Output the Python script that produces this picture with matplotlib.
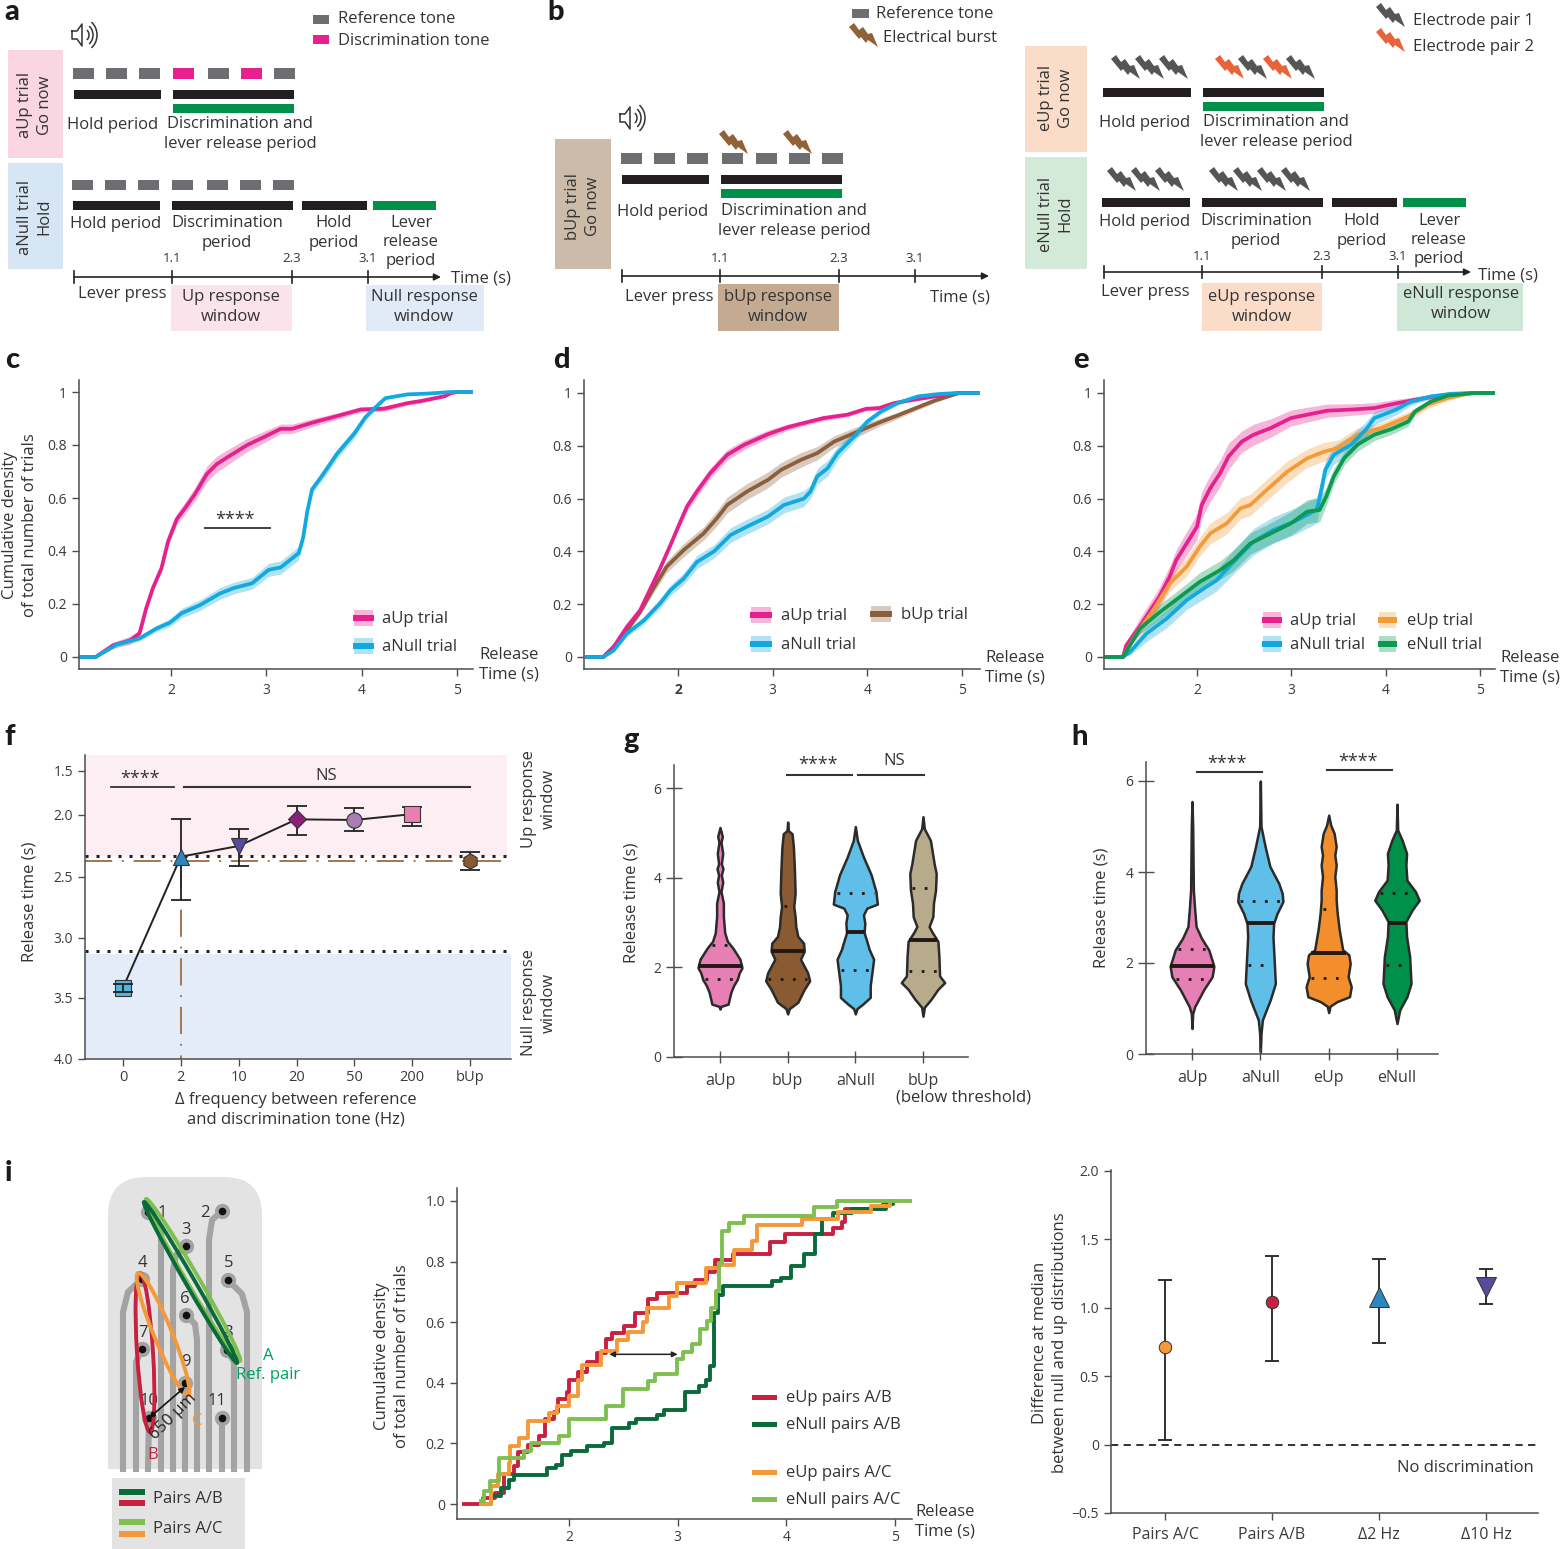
import numpy as np
import matplotlib
matplotlib.use('Agg')
import matplotlib.pyplot as plt
from matplotlib.patches import Rectangle, Ellipse, Arc, FancyBboxPatch

W, H = 1560, 1549
plt.rcParams['font.family'] = ['Open Sans', 'DejaVu Sans']
FS = 12
DARK = '#333333'
GREY = '#4d4d4d'

# ---- curves, columns are release time, cumulative density, band half width
c_aup = np.array([[1.03,0,0],[1.21,0,0],[1.39,.044,.012],[1.57,.063,.015],[1.67,.089,.015],[1.74,.184,.012],[1.81,.26,.012],
    [1.90,.335,.012],[1.97,.437,.015],[2.06,.52,.02],[2.15,.563,.022],[2.25,.614,.025],[2.375,.69,.03],[2.48,.728,.03],
    [2.62,.76,.028],[2.80,.80,.025],[2.97,.829,.022],[3.15,.861,.018],[3.27,.861,.018],[3.50,.886,.015],[3.74,.909,.012],
    [3.99,.934,.01],[4.235,.937,.01],[4.48,.958,.008],[4.62,.966,.008],[4.87,.984,.005],[4.94,.996,.002],[5.01,1,0],[5.17,1,0]])
c_anull = np.array([[1.03,0,0],[1.21,0,0],[1.43,.047,.008],[1.67,.07,.01],[1.85,.108,.012],[1.99,.13,.015],[2.11,.165,.018],
    [2.305,.196,.02],[2.515,.24,.022],[2.656,.26,.022],[2.85,.278,.022],[3.025,.329,.025],[3.15,.338,.025],[3.34,.392,.025],
    [3.386,.45,.012],[3.43,.55,.01],[3.48,.633,.015],[3.585,.684,.018],[3.74,.766,.018],[3.92,.842,.018],[4.04,.905,.012],
    [4.165,.949,.008],[4.25,.977,.005],[4.48,.991,.003],[4.69,.994,.002],[4.94,1,0],[5.17,1,0]])

d_aup = np.array([[1.02,0,0],[1.21,0,0],[1.32,.038,.008],[1.46,.114,.01],[1.60,.177,.012],[1.71,.26,.012],[1.81,.335,.012],
    [1.92,.424,.012],[2.01,.5,.015],[2.095,.57,.018],[2.2,.627,.02],[2.34,.696,.02],[2.52,.766,.02],[2.70,.804,.018],
    [2.95,.844,.015],[3.155,.87,.012],[3.37,.89,.01],[3.54,.905,.01],[3.79,.918,.008],[3.985,.94,.008],[4.125,.943,.008],
    [4.285,.962,.006],[4.5,.975,.005],[4.71,.987,.004],[4.96,1,0],[5.19,1,0]])
d_anull = np.array([[1.02,0,0],[1.21,0,0],[1.32,.025,.008],[1.46,.089,.012],[1.64,.139,.015],[1.81,.203,.018],[1.92,.253,.02],
    [2.06,.297,.022],[2.2,.36,.025],[2.38,.4,.025],[2.555,.462,.028],[2.73,.494,.028],[2.95,.532,.028],[3.12,.576,.03],
    [3.33,.6,.03],[3.40,.627,.025],[3.47,.684,.03],[3.58,.715,.03],[3.685,.772,.025],[3.86,.835,.02],[4.0,.892,.012],
    [4.145,.93,.01],[4.32,.962,.008],[4.535,.987,.004],[4.75,.996,.002],[4.96,1,0],[5.19,1,0]])
d_bup = np.array([[1.02,0,0],[1.21,0,0],[1.32,.038,.008],[1.46,.101,.01],[1.60,.171,.012],[1.74,.26,.018],[1.88,.342,.022],
    [2.06,.405,.025],[2.27,.468,.025],[2.41,.525,.028],[2.52,.576,.03],[2.73,.627,.03],[2.95,.671,.03],[3.09,.709,.028],
    [3.30,.747,.028],[3.47,.772,.025],[3.65,.816,.022],[3.86,.848,.02],[4.11,.886,.015],[4.32,.915,.012],[4.535,.946,.01],
    [4.71,.971,.008],[4.89,.991,.004],[4.97,1,0],[5.19,1,0]])

e_aup = np.array([[1.02,0,0],[1.215,0,0],[1.25,.044,.015],[1.39,.114,.03],[1.60,.228,.035],[1.71,.304,.04],[1.78,.367,.04],
    [1.89,.43,.045],[2.0,.494,.05],[2.05,.576,.05],[2.14,.639,.05],[2.245,.696,.05],[2.335,.76,.05],[2.475,.816,.04],
    [2.6,.842,.04],[2.78,.867,.035],[2.995,.905,.03],[3.17,.918,.028],[3.38,.933,.025],[3.63,.937,.022],[3.88,.943,.02],
    [4.13,.962,.015],[4.415,.981,.008],[4.66,.994,.004],[4.94,1,0],[5.16,1,0]])
e_anull = np.array([[1.02,0,0],[1.215,0,0],[1.29,.019,.012],[1.465,.089,.03],[1.68,.146,.035],[1.89,.215,.035],[2.1,.266,.04],
    [2.21,.291,.04],[2.39,.361,.045],[2.6,.437,.05],[2.81,.481,.05],[3.03,.513,.05],[3.27,.557,.05],[3.31,.62,.04],
    [3.36,.709,.035],[3.45,.766,.035],[3.63,.804,.035],[3.79,.861,.03],[3.88,.905,.025],[4.11,.937,.02],[4.27,.968,.015],
    [4.48,.987,.008],[4.695,.997,.003],[4.94,1,0],[5.16,1,0]])
e_eup = np.array([[1.02,0,0],[1.215,0,0],[1.36,.089,.015],[1.535,.177,.025],[1.71,.278,.03],[1.89,.342,.035],[2.03,.418,.035],
    [2.14,.468,.04],[2.315,.506,.04],[2.46,.563,.04],[2.565,.576,.04],[2.74,.633,.04],[2.96,.703,.04],[3.17,.753,.035],
    [3.35,.778,.035],[3.49,.791,.03],[3.70,.842,.025],[3.95,.867,.02],[4.24,.911,.018],[4.445,.956,.015],[4.66,.981,.01],
    [4.87,.997,.004],[4.94,1,0],[5.16,1,0]])
e_enull = np.array([[1.02,0,0],[1.215,0,0],[1.395,.108,.02],[1.61,.171,.03],[1.82,.228,.03],[2.03,.285,.035],[2.245,.329,.035],
    [2.39,.367,.04],[2.565,.43,.04],[2.78,.468,.04],[2.995,.506,.045],[3.17,.551,.045],[3.3,.557,.045],[3.37,.608,.035],
    [3.45,.684,.03],[3.56,.753,.025],[3.70,.804,.025],[3.88,.842,.022],[4.06,.863,.02],[4.24,.892,.018],[4.31,.93,.012],
    [4.48,.968,.008],[4.66,.99,.004],[4.94,1,0],[5.16,1,0]])

# ---- panel f
f_labels = ['0', '2', '10', '20', '50', '200', 'bUp']
f_median = [3.415, 2.336, 2.25, 2.035, 2.04, 1.99, 2.37]
f_low = [3.38, 2.035, 2.11, 1.895, 1.915, 1.91, 2.30]
f_high = [3.45, 2.69, 2.41, 2.16, 2.13, 2.085, 2.445]
f_markers = ['s', '^', 'v', 'D', 'o', 's', 'h']
f_colors = ['#55b4dc', '#2e86c1', '#5a4a9c', '#8a1f7c', '#a97cb5', '#e87fb0', '#8a5a33']
f_tick_vals = [1.32, 1.5, 2.0, 2.5, 3.0, 3.5, 4.0]
f_tick_pos = [755, 771, 815, 877, 938, 998, 1059]

# ---- violins, columns are release time and half width in category units
g_labels = ['aUp', 'bUp', 'aNull', 'bUp']
g_colors = ['#e57fb4', '#8a5a33', '#60bfe8', '#b8ab8c']
g_aup = np.array([[5.12,0],[4.92,.034],[4.79,.015],[4.54,.04],[4.31,.02],[4.2,.044],[4.06,.02],[3.9,.04],[3.69,.015],[3.43,.05],
    [3.13,.05],[2.77,.07],[2.58,.11],[2.43,.19],[2.18,.295],[1.99,.325],[1.88,.285],[1.73,.255],[1.59,.2],[1.44,.16],[1.18,.12],[1.13,.015],[1.07,0]])
g_bup = np.array([[5.24,0],[5.05,.01],[4.98,.065],[4.68,.085],[4.17,.1],[3.65,.11],[3.36,.09],[3.13,.11],[2.91,.12],[2.69,.15],
    [2.54,.235],[2.36,.245],[2.18,.19],[1.88,.295],[1.70,.325],[1.51,.245],[1.22,.15],[1.08,.025],[.96,0]])
g_anull = np.array([[5.14,0],[4.83,.03],[4.46,.12],[4.06,.235],[3.87,.27],[3.69,.305],[3.41,.325],[3.32,.17],[3.17,.12],[2.99,.14],
    [2.77,.13],[2.58,.17],[2.40,.205],[2.18,.27],[1.88,.245],[1.59,.22],[1.33,.22],[1.18,.11],[1.08,.025],[.96,0]])
g_bthr = np.array([[5.36,0],[5.09,.02],[4.83,.11],[4.31,.165],[4.09,.195],[3.72,.185],[3.43,.155],[3.13,.145],[2.91,.09],[2.77,.14],
    [2.58,.22],[2.25,.235],[1.81,.245],[1.66,.32],[1.51,.22],[1.29,.12],[1.11,.02],[.91,0]])
g_violins = [g_aup, g_bup, g_anull, g_bthr]
g_medians = [2.03, 2.37, 2.79, 2.61]
g_q1 = [1.73, 1.73, 1.93, 1.92]
g_q3 = [2.5, 3.36, 3.65, 3.78]

h_labels = ['aUp', 'aNull', 'eUp', 'eNull']
h_colors = ['#e57fb4', '#60bfe8', '#f28f2c', '#00904a']
h_aup = np.array([[5.55,0],[5.0,.01],[3.6,.02],[3.16,.04],[2.8,.06],[2.54,.14],[2.29,.245],[1.93,.32],[1.7,.295],[1.41,.17],[1.04,.04],[.89,.01],[.56,0]])
h_anull = np.array([[6.0,0],[5.0,.01],[4.56,.07],[4.12,.14],[3.75,.27],[3.53,.32],[3.35,.33],[3.09,.245],[2.87,.195],[2.58,.185],[1.99,.205],[1.55,.22],[1.19,.145],[.75,.03],[.45,.01],[.05,0]])
h_eup = np.array([[5.25,0],[5.03,.03],[4.85,.08],[4.56,.11],[4.37,.09],[4.15,.11],[3.9,.09],[3.6,.11],[3.38,.11],[3.09,.125],[2.73,.155],[2.29,.205],[2.18,.295],[1.99,.315],[1.7,.285],[1.48,.33],[1.26,.305],[1.15,.12],[1.05,.02],[.91,0]])
h_enull = np.array([[5.49,0],[4.92,.01],[4.7,.075],[4.41,.14],[4.15,.13],[3.82,.145],[3.57,.27],[3.38,.325],[3.16,.22],[2.91,.13],[2.58,.14],[2.14,.185],[1.55,.205],[1.26,.145],[.97,.04],[.67,0]])
h_violins = [h_aup, h_anull, h_eup, h_enull]
h_medians = [1.94, 2.87, 2.23, 2.88]
h_q1 = [1.64, 1.96, 1.68, 1.95]
h_q3 = [2.31, 3.36, 3.19, 3.53]

# ---- panel i cumulative steps, time of each jump and level after it
i_eup_ab = np.array([[1.03,0],[1.21,.02],[1.32,.036],[1.40,.10],[1.49,.124],[1.53,.17],[1.62,.196],[1.72,.225],[1.78,.28],[1.86,.305],[1.90,.345],
    [1.98,.37],[2.0,.41],[2.08,.437],[2.17,.47],[2.26,.50],[2.34,.545],[2.40,.565],[2.51,.587],[2.61,.63],[2.73,.675],[2.81,.695],[3.09,.72],
    [3.16,.74],[3.27,.765],[3.34,.805],[3.51,.825],[3.85,.865],[3.99,.89],[4.43,.91],[4.51,.93],[4.54,.975],[4.89,.99],[4.97,1.0]])
i_eup_ac = np.array([[1.19,0],[1.28,.058],[1.35,.10],[1.45,.135],[1.46,.19],[1.54,.218],[1.62,.273],[1.82,.30],[1.89,.322],[2.0,.356],[2.08,.41],
    [2.12,.46],[2.29,.505],[2.44,.54],[2.54,.568],[2.68,.60],[2.72,.648],[2.92,.687],[2.99,.73],[3.26,.78],[3.38,.79],[3.52,.838],[3.68,.868],
    [3.73,.92],[4.14,.94],[4.48,.965],[4.78,.985],[4.95,1.0]])
i_enull_ab = np.array([[1.19,0],[1.28,.025],[1.37,.053],[1.45,.08],[1.49,.097],[1.80,.119],[1.88,.13],[1.94,.163],[2.02,.174],[2.17,.19],[2.32,.202],
    [2.40,.251],[2.55,.267],[2.62,.28],[2.81,.295],[2.87,.31],[3.07,.37],[3.2,.388],[3.26,.41],[3.3,.455],[3.33,.63],[3.37,.69],[3.42,.72],
    [3.87,.735],[3.95,.747],[4.04,.786],[4.16,.825],[4.26,.89],[4.33,.94],[4.43,.96],[4.6,.975],[4.92,.99],[4.98,1.0]])
i_enull_ac = np.array([[1.19,.01],[1.22,.042],[1.27,.075],[1.36,.152],[1.59,.174],[1.65,.202],[1.91,.224],[2.0,.279],[2.34,.323],[2.50,.378],[2.73,.406],
    [2.79,.428],[2.99,.477],[3.05,.502],[3.13,.527],[3.21,.577],[3.27,.604],[3.31,.648],[3.35,.703],[3.38,.797],[3.41,.90],[3.47,.929],[3.61,.95],
    [4.25,.979],[4.47,1.0],[5.16,1.0]])

# ---- panel i right
j_labels = ['Pairs A/C', 'Pairs A/B', '\u03942 Hz', '\u039410 Hz']
j_values = [0.71, 1.04, 1.08, 1.15]
j_low = [0.03, 0.61, 0.74, 1.03]
j_high = [1.20, 1.38, 1.36, 1.28]
j_markers = ['o', 'o', '^', 'v']
j_colors = ['#f4993a', '#c8203f', '#2e86c1', '#5a4a9c']
j_sizes = [9, 9, 15, 15]

cum_ticks = [0, .2, .4, .6, .8, 1]
cum_labels = ['0', '0.2', '0.4', '0.6', '0.8', '1']

PINK, BLUE, BROWN, ORANGE, GREEN = '#e6218e', '#11a9e0', '#8b5e3c', '#f39b38', '#0b9a50'

fig = plt.figure(figsize=(W / 100, H / 100), dpi=100, facecolor='white')


def px_axes(x0, x1, ytop, ybot, xref, yref):
    ax = fig.add_axes([x0 / W, 1 - ybot / H, (x1 - x0) / W, (ybot - ytop) / H], facecolor='none')
    if xref:
        (v1, p1), (v2, p2) = xref
        k = (v2 - v1) / (p2 - p1)
        ax.set_xlim(v1 + (x0 - p1) * k, v1 + (x1 - p1) * k)
    if yref:
        (v1, p1), (v2, p2) = yref
        k = (v2 - v1) / (p2 - p1)
        ax.set_ylim(v1 + (ybot - p1) * k, v1 + (ytop - p1) * k)
    for s in ['top', 'right']:
        ax.spines[s].set_visible(False)
    for s in ['left', 'bottom']:
        ax.spines[s].set_color(GREY)
        ax.spines[s].set_linewidth(1.1)
    ax.tick_params(colors=GREY, labelcolor='#3a3a3a', labelsize=10, width=1, length=5)
    return ax


def cum_panel(xpx, ypx, curves):
    ax = px_axes(xpx[0], xpx[1], 380, 669, ((2, xpx[2]), (5, xpx[3])), ((0, ypx[0]), (1, ypx[1])))
    for data, col in curves:
        ax.fill_between(data[:, 0], data[:, 1] - data[:, 2], data[:, 1] + data[:, 2], color=col, alpha=.33, lw=0)
    for data, col in curves:
        ax.plot(data[:, 0], data[:, 1], color=col, lw=2.7, solid_capstyle='butt')
    ax.set_xticks([2, 3, 4, 5])
    ax.set_xticklabels(['2', '3', '4', '5'])
    ax.set_yticks(cum_ticks)
    ax.set_yticklabels(cum_labels)
    ax.tick_params(axis='x', pad=5)
    return ax


ax_c = cum_panel((79, 473, 171, 457), (657, 392), [(c_aup, PINK), (c_anull, BLUE)])
ax_d = cum_panel((584, 980, 678, 962), (657, 393), [(d_bup, BROWN), (d_aup, PINK), (d_anull, BLUE)])
ax_d.get_xticklabels()[0].set_fontweight('bold')
ax_e = cum_panel((1104, 1495, 1197, 1480), (657, 393), [(e_aup, PINK), (e_eup, ORANGE), (e_anull, BLUE), (e_enull, GREEN)])


# panel f has a squeezed top, the 1.5 to 2.0 step is shorter than the others
def f_fwd(v):
    return np.interp(v, f_tick_vals, f_tick_pos)


def f_inv(p):
    return np.interp(p, f_tick_pos, f_tick_vals)


ax_f = px_axes(85, 511, 755, 1059, ((0, 123), (6, 470)), None)
ax_f.set_yscale('function', functions=(f_fwd, f_inv))
ax_f.set_ylim(4.0, 1.32)
ax_f.axhspan(1.32, 2.33, xmax=.99, color='#fdeef3', lw=0, zorder=0)
ax_f.axhspan(3.13, 4.0, color='#e4ecf9', lw=0, zorder=0)
ax_f.axhline(2.33, xmax=.99, color='#222222', lw=2.2, ls=(0, (1, 2.6)), zorder=2)
ax_f.axhline(3.11, xmax=.99, color='#222222', lw=2.2, ls=(0, (1, 2.6)), zorder=2)
ax_f.axhline(2.37, color='#a5764f', lw=1.4, ls=(0, (14, 5, 1, 5)), zorder=2)
ax_f.plot([1, 1], [2.37, 4.0], color='#a5764f', lw=1.4, ls=(0, (14, 5, 1, 5)), zorder=2)
xs = np.arange(len(f_labels))
ax_f.plot(xs[:6], f_median[:6], color='#222222', lw=1.4, zorder=3)
for i in xs:
    ax_f.errorbar(i, f_median[i], yerr=[[f_median[i] - f_low[i]], [f_high[i] - f_median[i]]], color='#222222',
                  lw=1.3, capsize=7.5, capthick=1.3, zorder=5 if i == 0 else 3)
    ax_f.plot(i, f_median[i], marker=f_markers[i], ms=11 if f_markers[i] != 'D' else 9.5, color=f_colors[i],
              mec='#333333', mew=.8, zorder=4)
ax_f.set_xticks(xs)
ax_f.set_xticklabels(f_labels, fontsize=10.5)
ax_f.set_yticks([1.5, 2.0, 2.5, 3.0, 3.5, 4.0])
ax_f.set_yticklabels(['1.5', '2.0', '2.5', '3.0', '3.5', '4.0'])
ax_f.minorticks_off()
ax_f.tick_params(axis='x', pad=3)


def violin_panel(ax, violins, colors, medians, q1, q3, labels):
    for i, v in enumerate(violins):
        ax.fill_betweenx(v[:, 0], i - v[:, 1], i + v[:, 1], facecolor=colors[i], edgecolor='#2b2b2b', lw=1.8)
        hw = np.interp(medians[i], v[::-1, 0], v[::-1, 1])
        ax.plot([i - hw, i + hw], [medians[i]] * 2, color='#231815', lw=2.8, solid_capstyle='butt')
        for q in (q1[i], q3[i]):
            hw = np.interp(q, v[::-1, 0], v[::-1, 1])
            ax.plot([i - hw + .03, i + hw - .03], [q, q], color='#231815', lw=2, ls=(0, (1, 3.4)))
    ax.set_xticks(range(len(labels)))
    ax.set_xticklabels(labels, fontsize=11.5)
    ax.set_yticks([0, 2, 4, 6])
    ax.tick_params(axis='x', pad=7, direction='inout', length=9)
    ax.tick_params(axis='y', direction='inout', length=11)


ax_g = px_axes(674, 968, 765, 1057, ((0, 720), (3, 923)), ((0, 1057), (6, 788)))
violin_panel(ax_g, g_violins, g_colors, g_medians, g_q1, g_q3, g_labels)
ax_h = px_axes(1146, 1438, 762, 1054, ((0, 1192), (3, 1397)), ((0, 1054), (6, 781)))
violin_panel(ax_h, h_violins, h_colors, h_medians, h_q1, h_q3, h_labels)

ax_i = px_axes(457, 912, 1188, 1519, ((2, 569), (5, 895)), ((0, 1504), (1, 1201)))
for data, col in [(i_eup_ab, '#c8203f'), (i_enull_ab, '#0a6a3a'), (i_eup_ac, '#f4993a'), (i_enull_ac, '#7fbf50')]:
    ax_i.plot(data[:, 0], data[:, 1], color=col, lw=2.8, drawstyle='steps-post')
ax_i.annotate('', xy=(2.37, .494), xytext=(3.0, .494), arrowprops=dict(arrowstyle='<|-|>', color='#222222', lw=1.1, mutation_scale=8, shrinkA=0, shrinkB=0))
ax_i.set_xticks([2, 3, 4, 5])
ax_i.set_xticklabels(['2', '3', '4', '5'])
ax_i.set_yticks(cum_ticks)
ax_i.set_yticklabels(['0', '0.2', '0.4', '0.6', '0.8', '1.0'])
ax_i.tick_params(axis='x', pad=3)

ax_j = px_axes(1111, 1538, 1170, 1513, ((0, 1165), (3, 1486)), ((0, 1445), (2, 1171)))
ax_j.axhline(0, color='#222222', lw=1.3, ls=(0, (4, 3)))
for i in range(4):
    ax_j.errorbar(i, j_values[i], yerr=[[j_values[i] - j_low[i]], [j_high[i] - j_values[i]]], color='#222222', lw=1.3, capsize=5, capthick=1.3)
    ax_j.plot(i, j_values[i], marker=j_markers[i], ms=j_sizes[i], color=j_colors[i], mec='#333333', mew=.7, zorder=4)
ax_j.set_xticks(range(4))
ax_j.set_xticklabels(j_labels, fontsize=11.5)
ax_j.set_yticks([-.5, 0, .5, 1, 1.5, 2])
ax_j.set_yticklabels(['\u22120.5', '0', '0.5', '1.0', '1.5', '2.0'])
ax_j.tick_params(axis='x', pad=5)

# overlay in image pixels for the schematics, labels and legends
ov = fig.add_axes([0, 0, 1, 1], facecolor='none')
ov.set_xlim(0, W)
ov.set_ylim(H, 0)
ov.axis('off')


def T(x, y, s, size=FS, ha='center', va='center', color=DARK, **kw):
    ov.text(x, y + 1, s, fontsize=size, ha=ha, va=va, color=color, linespacing=1.27, **kw)


def letter(x, y, s):
    ov.text(x, y, s, fontsize=21, ha='center', va='center', color='#1a1a1a', family='Lato', fontweight=900)


def R(x0, x1, y0, y1, color, **kw):
    ov.add_patch(Rectangle((x0, y0), x1 - x0, y1 - y0, facecolor=color, edgecolor='none', **kw))


BOLT = np.array([[-14, -9], [-9, -13], [-4, -6], [0, -9], [5, -2], [9, -3], [15, 11], [5, 4], [3, 7], [-2, 1], [-4, 3]], dtype=float)
B_GREY, B_RED, B_BROWN = '#555555', '#e8633a', '#8f6238'
TONE_GREY, TONE_PINK, BAR_GREEN, BAR_BLACK = '#6d6e71', '#e6218e', '#00904a', '#231f20'


def bolt(x, y, color):
    ov.fill(BOLT[:, 0] + x, BOLT[:, 1] + y, color=color, lw=0)


def speaker(x, y):
    ov.plot(x + np.array([-10, -5, 0, 0, -5, -10, -10]), y + np.array([-4, -4, -11, 11, 4, 4, -4]), color='#333333', lw=1.1)
    for r in (5, 9, 13):
        ov.add_patch(Arc((x + 2, y), r * 2, r * 2.4, theta1=-60, theta2=60, color='#333333', lw=1.1))


def tones(xs_, y0, y1, pink=()):
    for n, x in enumerate(xs_):
        R(x, x + 21, y0, y1, TONE_PINK if n in pink else TONE_GREY)


def time_axis(x0, x1, y, ticks, lab_y):
    ov.annotate('', xy=(x1, y), xytext=(x0, y), arrowprops=dict(arrowstyle='-|>', color='#222222', lw=1.2, mutation_scale=10, shrinkA=0, shrinkB=0))
    for x in [x0] + ticks:
        ov.plot([x, x], [y - 6, y + 6], color='#222222', lw=1.2)
    for x, s in zip(ticks, ['1.1', '2.3', '3.1']):
        T(x, lab_y, s, size=9.5)


# a
letter(12, 12, 'a')
speaker(82, 35)
R(313, 329, 15, 24, TONE_GREY)
R(313, 329, 35, 44, TONE_PINK)
T(338, 18, 'Reference tone', ha='left')
T(338, 40, 'Discrimination tone', ha='left')
R(8, 63, 50, 158, '#f9d6e2')
R(8, 63, 163, 269, '#d6e6f5')
T(35, 104, 'aUp trial\nGo now', rotation=90)
T(35, 216, 'aNull trial\nHold', rotation=90)
tones([73, 106, 139, 173, 208, 241, 274], 68, 79, pink=(3, 5))
R(74, 161, 90, 99, BAR_BLACK)
R(173, 294, 90, 99, BAR_BLACK)
R(173, 294, 104, 113, BAR_GREEN)
T(113, 124, 'Hold period')
T(240, 133, 'Discrimination and\nlever release period')
tones([72, 105, 138, 172, 207, 240, 273], 180, 190)
R(73, 160, 201, 210, BAR_BLACK)
R(172, 293, 201, 210, BAR_BLACK)
R(302, 367, 201, 210, BAR_BLACK)
R(373, 436, 201, 210, BAR_GREEN)
T(116, 223, 'Hold period')
T(227, 232, 'Discrimination\nperiod')
T(334, 232, 'Hold\nperiod')
T(411, 241, 'Lever\nrelease\nperiod')
time_axis(74, 441, 277, [172, 292, 368], 257)
T(481, 277, 'Time (s)')
T(122, 293, 'Lever press')
R(171, 292, 285, 331, '#fbe3ec')
R(366, 484, 285, 331, '#e0ebf7')
T(231, 306, 'Up response\nwindow')
T(424, 306, 'Null response\nwindow')

# b
letter(556, 12, 'b')
speaker(630, 118)
R(852, 869, 9, 18, TONE_GREY)
bolt(863, 36, B_BROWN)
T(876, 13, 'Reference tone', ha='left')
T(883, 37, 'Electrical burst', ha='left')
R(555, 611, 139, 269, '#cdbba9')
T(583, 205, 'bUp trial\nGo now', rotation=90)
bolt(733, 143, B_BROWN)
bolt(797, 143, B_BROWN)
tones([621, 654, 687, 722, 756, 789, 822], 153, 164)
R(622, 709, 175, 184, BAR_BLACK)
R(721, 842, 175, 184, BAR_BLACK)
R(721, 842, 189, 198, BAR_GREEN)
T(663, 211, 'Hold period')
T(794, 220, 'Discrimination and\nlever release period')
time_axis(622, 989, 276, [720, 839, 915], 257)
T(669, 296, 'Lever press')
T(960, 296, 'Time (s)')
R(718, 839, 284, 331, '#c4aa90')
T(778, 306, 'bUp response\nwindow')

# e schematic
bolt(1390, 16, B_GREY)
bolt(1390, 41, B_RED)
T(1413, 20, 'Electrode pair 1', ha='left')
T(1413, 46, 'Electrode pair 2', ha='left')
R(1025, 1087, 46, 152, '#fbdcc8')
R(1025, 1087, 157, 269, '#d3ead9')
T(1056, 97, 'eUp trial\nGo now', rotation=90)
T(1056, 213, 'eNull trial\nHold', rotation=90)
for x in [1125, 1149, 1173, 1252, 1300]:
    bolt(x, 68, B_GREY)
for x in [1229, 1277]:
    bolt(x, 68, B_RED)
for x in [1121, 1145, 1169, 1223, 1247, 1271, 1295]:
    bolt(x, 180, B_GREY)
R(1103, 1191, 88, 97, BAR_BLACK)
R(1203, 1324, 88, 97, BAR_BLACK)
R(1203, 1324, 102, 111, BAR_GREEN)
T(1145, 122, 'Hold period')
T(1276, 131, 'Discrimination and\nlever release period')
R(1102, 1190, 198, 207, BAR_BLACK)
R(1202, 1323, 198, 207, BAR_BLACK)
R(1332, 1397, 198, 207, BAR_BLACK)
R(1403, 1466, 198, 207, BAR_GREEN)
T(1145, 221, 'Hold period')
T(1256, 230, 'Discrimination\nperiod')
T(1362, 230, 'Hold\nperiod')
T(1439, 239, 'Lever\nrelease\nperiod')
time_axis(1104, 1471, 272, [1202, 1322, 1398], 255)
T(1508, 274, 'Time (s)')
T(1145, 291, 'Lever press')
R(1202, 1322, 283, 331, '#fadcc8')
R(1397, 1523, 283, 331, '#cfe7d6')
T(1262, 306, 'eUp response\nwindow')
T(1461, 303, 'eNull response\nwindow')

# cumulative panel labels
letter(12, 360, 'c')
letter(561, 360, 'd')
letter(1081, 360, 'e')
T(20, 524, 'Cumulative density\nof total number of trials', rotation=90)
T(509, 664, 'Release\nTime (s)')
T(1015, 667, 'Release\nTime (s)')
T(1530, 667, 'Release\nTime (s)')
T(235, 519, '****', size=13)
ov.plot([205, 270], [528, 528], color='#333333', lw=1.3)


def cum_key(x0, x1, y, color, label, tx):
    R(x0 + 1, x1 - 1, y - 8, y + 8, color, alpha=.33)
    R(x0, x1, y - 3, y + 3, color)
    T(tx, y, label, ha='left')


cum_key(353, 374, 618, PINK, 'aUp trial', 382)
cum_key(353, 374, 646, BLUE, 'aNull trial', 382)
cum_key(750, 772, 615, PINK, 'aUp trial', 781)
cum_key(750, 772, 644, BLUE, 'aNull trial', 781)
cum_key(870, 892, 614, BROWN, 'bUp trial', 901)
cum_key(1262, 1282, 620, PINK, 'aUp trial', 1290)
cum_key(1262, 1282, 644, BLUE, 'aNull trial', 1290)
cum_key(1378, 1397, 620, ORANGE, 'eUp trial', 1407)
cum_key(1378, 1397, 644, GREEN, 'eNull trial', 1407)

# f g h labels
letter(10, 737, 'f')
letter(631, 740, 'g')
letter(1080, 737, 'h')
T(29, 901, 'Release time (s)', rotation=90)
T(539, 798, 'Up response\nwindow', rotation=90)
T(539, 1002, 'Null response\nwindow', rotation=90)
T(296, 1109, '\u0394 frequency between reference\nand discrimination tone (Hz)')
T(140, 778, '****', size=13)
ov.plot([111, 174], [787, 787], color='#333333', lw=1.3)
T(326, 775, 'NS', size=12)
ov.plot([184, 470], [787, 787], color='#333333', lw=1.5)

T(631, 902, 'Release time (s)', rotation=90)
T(818, 764, '****', size=13)
ov.plot([787, 852], [775, 775], color='#333333', lw=1.5)
T(894, 760, 'NS', size=12)
ov.plot([858, 924], [775, 775], color='#333333', lw=1.5)
T(963, 1097, '(below threshold)')

T(1101, 907, 'Release time (s)', rotation=90)
T(1227, 763, '****', size=13)
ov.plot([1197, 1262], [772, 772], color='#333333', lw=1.5)
T(1358, 761, '****', size=13)
ov.plot([1327, 1392], [770, 770], color='#333333', lw=1.5)

# i electrode drawing
letter(9, 1173, 'i')
SHANK = '#e3e3e3'
ov.add_patch(FancyBboxPatch((108, 1177), 154, 250, boxstyle='round,pad=0,rounding_size=38', facecolor=SHANK, edgecolor='none', zorder=1))
R(108, 262, 1300, 1469, SHANK, zorder=1)
trace_paths = [[(148, 1212), (161, 1232), (161, 1469)], [(222, 1211), (212, 1220), (209, 1240), (209, 1469)],
               [(186, 1246), (176, 1255), (173, 1270), (173, 1469)], [(142, 1279), (128, 1292), (123, 1312), (123, 1469)],
               [(228, 1280), (242, 1294), (247, 1312), (247, 1469)], [(186, 1315), (195, 1324), (197, 1340), (197, 1469)],
               [(142, 1349), (136, 1362), (136, 1469)], [(227, 1350), (234, 1362), (234, 1469)],
               [(185, 1383), (185, 1469)], [(149, 1418), (148, 1469)], [(222, 1418), (222, 1469)]]
for p in trace_paths:
    p = np.array(p)
    ov.plot(p[:, 0], p[:, 1], color='#a3a3a3', lw=4.4, zorder=2, solid_joinstyle='round')
pads = [(148, 1212), (222, 1211), (186, 1246), (142, 1279), (228, 1280), (186, 1315), (142, 1349), (227, 1350), (185, 1383), (149, 1418), (222, 1418)]
for x, y in pads:
    ov.plot(x, y, 'o', ms=11, color='#a3a3a3', mew=0, zorder=3)
    ov.plot(x, y, 'o', ms=5.5, color='#111111', mew=0, zorder=3)
for (x, y), s in zip([(162, 1212), (205, 1212), (186, 1229), (142, 1262), (229, 1262), (185, 1298), (143, 1332), (228, 1332), (186, 1361), (149, 1400), (217, 1400)],
                     ['1', '2', '3', '4', '5', '6', '7', '8', '9', '10', '11']):
    T(x, y, s, zorder=4)


def loop(p0, p1, w, color):
    dx, dy = p1[0] - p0[0], p1[1] - p0[1]
    ov.add_patch(Ellipse(((p0[0] + p1[0]) / 2, (p0[1] + p1[1]) / 2), np.hypot(dx, dy), w, angle=np.degrees(np.arctan2(dy, dx)),
                         fill=False, edgecolor=color, lw=2.8, zorder=5))


loop((146, 1199), (240, 1361), 12, '#7fbf50')
loop((144, 1202), (237, 1363), 9, '#0a6a3a')
loop((140, 1273), (150, 1432), 16, '#c8203f')
loop((138, 1273), (188, 1395), 18, '#f4993a')
ov.annotate('', xy=(149, 1418), xytext=(185, 1387), arrowprops=dict(arrowstyle='<|-|>', color='#111111', lw=1.2, mutation_scale=8, shrinkA=0, shrinkB=0), zorder=6)
T(173, 1416, '650 \u03bcm', rotation=45, color='#222222', zorder=7)
T(268, 1355, 'A', color='#00a060')
T(268, 1374, 'Ref. pair', color='#00a060')
T(197, 1420, 'C', color='#f4993a', zorder=7)
T(153, 1454, 'B', color='#c8203f', zorder=7)
R(112, 245, 1478, 1549, SHANK)
R(119, 145, 1489, 1495, '#0a6a3a')
R(119, 145, 1500, 1506, '#c8203f')
R(119, 145, 1519, 1525, '#7fbf50')
R(119, 145, 1531, 1537, '#f4993a')
T(153, 1498, 'Pairs A/B', ha='left')
T(153, 1528, 'Pairs A/C', ha='left')

# i middle and right labels
T(392, 1355, 'Cumulative density\nof total number of trials', rotation=90)
for y, col, s in [(1397, '#c8203f', 'eUp pairs A/B'), (1424, '#0a6a3a', 'eNull pairs A/B'), (1472, '#f4993a', 'eUp pairs A/C'), (1499, '#7fbf50', 'eNull pairs A/C')]:
    R(752, 777, y - 2.5, y + 2.5, col)
    T(786, y, s, ha='left')
T(945, 1521, 'Release\nTime (s)')
T(1050, 1342, 'Difference at median\nbetween null and up distributions', rotation=90)
T(1465, 1467, 'No discrimination')

fig.savefig('out.png', dpi=100)
